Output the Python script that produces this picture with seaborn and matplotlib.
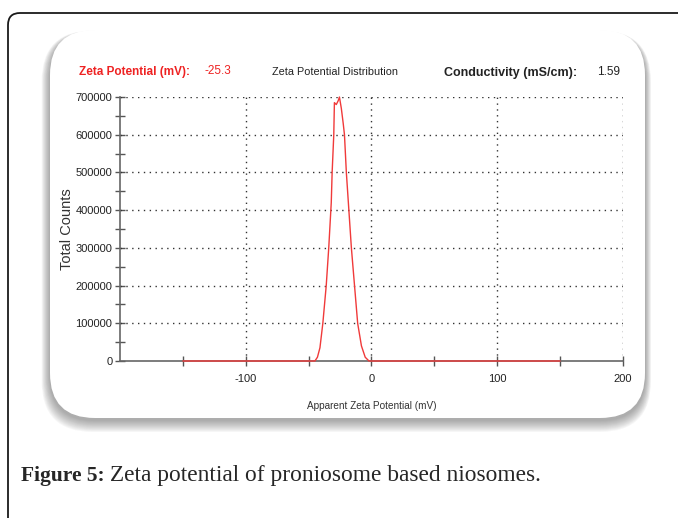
import matplotlib
matplotlib.use("Agg")
import matplotlib.pyplot as plt
import matplotlib.transforms as mtransforms
from matplotlib.patches import FancyBboxPatch
from matplotlib.ticker import MultipleLocator, FixedLocator
import seaborn as sns

# ---- data ----
potential_mv = [-150, -45, -43, -41, -38.7, -36, -34, -32, -31.3, -30, -29.5, -28,
                -26.5, -25.5, -24, -22.5, -21.5, -20, -18, -16, -13.5, -11, -8,
                -5, -2, 0, 150]
total_counts = [0, 0, 10000, 35000, 100000, 200000, 300000, 420000, 500000, 600000,
                685000, 680000, 690000, 700000, 670000, 630000, 600000, 500000,
                400000, 300000, 200000, 100000, 40000, 10000, 0, 0, 0]
x_major = [-100, 0, 100, 200]
x_minor = [-150, -50, 50, 150]
y_major = [0, 100000, 200000, 300000, 400000, 500000, 600000, 700000]
zeta_value = "-25.3"
conductivity_value = "1.59"

W, H = 678, 518
sns.set_theme(style="white")
plt.rcParams['font.family'] = ['Liberation Sans', 'DejaVu Sans']

fig = plt.figure(figsize=(W / 100, H / 100), dpi=100)
fig.patch.set_facecolor("white")
px = mtransforms.Affine2D().scale(1 / W, 1 / H) + fig.transFigure

def rbox(x0, y0, x1, y1, r, **kw):
    # pixel coords with y measured from top
    p = FancyBboxPatch((x0 + r, H - y1 + r), (x1 - x0) - 2 * r, (y1 - y0) - 2 * r,
                       boxstyle=f"round,pad={r}", transform=px, **kw)
    fig.add_artist(p)
    return p

# outer frame
rbox(8, 13, 720, 560, 12, facecolor="white", edgecolor="#1a1a1a", lw=1.3, zorder=0)

# panel shadow
for i in range(12):
    g = 12 - i
    rbox(50 - g * 0.7, 30 - g * 0.2 + 3, 645 + g * 0.5, 418 + g * 1.0 + 2, 45 + g * 0.5,
         facecolor="#444444", edgecolor="none", alpha=0.045, zorder=0.5)
rbox(50, 30, 645, 418, 45, facecolor="white", edgecolor="none", zorder=0.6)

ax = fig.add_axes([120 / W, 1 - 361 / H, 503 / W, 264 / H])
ax.set_facecolor("none")
ax.set_zorder(2)

sns.lineplot(x=potential_mv, y=total_counts, ax=ax, color="#f03a3a", lw=1.0,
             estimator=None, sort=False, zorder=5, clip_on=False)

ax.set_xlim(-200, 200)
ax.set_ylim(0, 700000)
for s in ["top", "right"]:
    ax.spines[s].set_visible(False)
for s in ["left", "bottom"]:
    ax.spines[s].set_color("#666666")
    ax.spines[s].set_linewidth(1.2)

ax.xaxis.set_major_locator(FixedLocator(x_major))
ax.xaxis.set_minor_locator(FixedLocator(x_minor))
ax.yaxis.set_major_locator(FixedLocator(y_major))
ax.yaxis.set_minor_locator(MultipleLocator(50000))
ax.set_xticklabels([str(v) for v in x_major])
ax.set_yticklabels([str(v) for v in y_major])
ax.tick_params(axis="both", which="both", direction="inout", color="#555555",
               width=1.0, labelsize=8, labelcolor="#222222", bottom=True, left=True)
ax.tick_params(axis="both", which="major", length=7, pad=2)
ax.tick_params(axis="both", which="minor", length=7)
ax.tick_params(axis="x", which="major", pad=6)

for v in y_major[1:]:
    ax.axhline(v, color="#333333", lw=1.0, ls=(0, (1, 3.2)), zorder=1)
for v in x_major:
    ax.axvline(v, color="#333333", lw=1.0, ls=(0, (1, 3.2)), zorder=1)

ax.set_xlabel("Apparent Zeta Potential (mV)", fontsize=7.2, color="#333333", labelpad=12)
ax.set_ylabel("Total Counts", fontsize=10.5, color="#333333", labelpad=1)

# header texts
def ftext(x, y, s, **kw):
    fig.text(x / W, 1 - y / H, s, va="center", ha="left", **kw)

ftext(79, 72, "Zeta Potential (mV):", color="#ee2222", fontsize=8.5, fontweight="bold")
ftext(204, 71, zeta_value, color="#ee2222", fontsize=8.5)
ftext(272, 72, "Zeta Potential Distribution", color="#222222", fontsize=7.8)
ftext(444, 73, "Conductivity (mS/cm):", color="#222222", fontsize=9, fontweight="bold")
ftext(597, 72, conductivity_value, color="#222222", fontsize=8.5)

# caption
serif = ["Liberation Serif", "DejaVu Serif"]
fig.text(21 / W, 1 - 481 / H, "Figure 5:", fontsize=15.5, fontweight="bold",
         family=serif, va="baseline", ha="left")
fig.text(110 / W, 1 - 481 / H, "Zeta potential of proniosome based niosomes.", fontsize=16.8,
         family=serif, va="baseline", ha="left")

fig.savefig("out.png", dpi=100)
